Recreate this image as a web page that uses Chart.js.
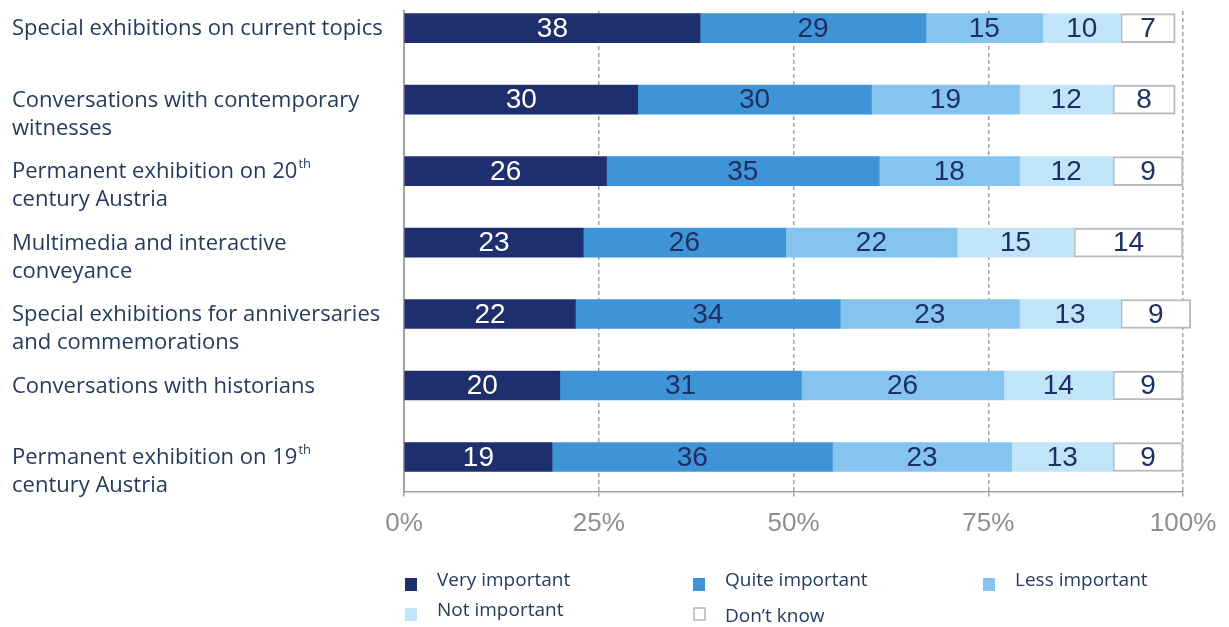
<!DOCTYPE html>
<html>
<head>
<meta charset="utf-8">
<title>Museum offerings – importance ratings</title>
<script src="https://cdn.jsdelivr.net/npm/chart.js@4.4.1/dist/chart.umd.min.js"></script>
<style>
  html, body { margin: 0; padding: 0; background: #ffffff; }
  #wrap { width: 1229px; height: 627px; }
</style>
</head>
<body>
<div id="wrap"><canvas id="chart" width="1229" height="627"></canvas></div>
<script>
// Survey items, top to bottom ("\n" separates label lines)
const categories = [
  'Special exhibitions on current topics',
  'Conversations with contemporary\nwitnesses',
  'Permanent exhibition on 20th\ncentury Austria',
  'Multimedia and interactive\nconveyance',
  'Special exhibitions for anniversaries\nand commemorations',
  'Conversations with historians',
  'Permanent exhibition on 19th\ncentury Austria'
];

// Shares in percent per answer
const veryImportant  = [38, 30, 26, 23, 22, 20, 19];
const quiteImportant = [29, 30, 35, 26, 34, 31, 36];
const lessImportant  = [15, 19, 18, 22, 23, 26, 23];
const notImportant   = [10, 12, 12, 15, 13, 14, 13];
const dontKnow       = [7, 8, 9, 14, 9, 9, 9];

const seriesNames = ['Very important', 'Quite important', 'Less important', 'Not important', 'Don\u2019t know'];
const xTicks = [0, 25, 50, 75, 100];

const fills   = ['#1f2e6c', '#3f93d7', '#84c4ef', '#c0e4f8', '#ffffff'];
const borders = ['#1f2e6c', '#3f93d7', '#84c4ef', '#c0e4f8', '#b9b9b9'];
const valueInk = ['#ffffff', '#1e2f63', '#1e2f63', '#1e2f63', '#1e2f63'];

const LABEL_FONT = '"Open Sans", "DejaVu Sans", sans-serif';
const VALUE_FONT = '"Liberation Sans", Arial, sans-serif';
const TEXT_INK = '#263a5e';

const seriesValues = [veryImportant, quiteImportant, lessImportant, notImportant, dontKnow];

const datasets = seriesValues.map((vals, s) => ({
  label: seriesNames[s],
  data: vals.map((v, i) => ({ x: v, y: i })),
  backgroundColor: fills[s],
  borderColor: borders[s],
  borderWidth: s === 4 ? 2 : 0,
  borderSkipped: false,
  barThickness: 29,
  clip: false
}));

// Draws a text line, rendering "th" after a number as a superscript
function drawRich(ctx, text, x, y, size) {
  const parts = text.split(/(\d+)(th)\b/);
  let cx = x;
  for (let k = 0; k < parts.length; k++) {
    const p = parts[k];
    if (!p) continue;
    const isSup = (p === 'th' && k > 0 && /^\d+$/.test(parts[k - 1]));
    ctx.font = (isSup ? Math.round(size * 0.6) : size) + 'px ' + LABEL_FONT;
    ctx.fillText(p, cx + (isSup ? 1 : 0), isSup ? y - size * 0.36 : y);
    cx += ctx.measureText(p).width;
  }
}

const categoryLabels = {
  id: 'categoryLabels',
  afterDraw(chart) {
    const ctx = chart.ctx;
    const yScale = chart.scales.y;
    ctx.save();
    ctx.fillStyle = TEXT_INK;
    ctx.textAlign = 'left';
    ctx.textBaseline = 'middle';
    categories.forEach((cat, i) => {
      const yc = yScale.getPixelForValue(i);
      cat.split('\n').forEach((line, j) => {
        drawRich(ctx, line, 12, yc + 1 + j * 28, 22);
      });
    });
    ctx.restore();
  }
};

const barValues = {
  id: 'barValues',
  afterDatasetsDraw(chart) {
    const ctx = chart.ctx;
    ctx.save();
    ctx.textAlign = 'center';
    ctx.textBaseline = 'middle';
    ctx.font = '28px ' + VALUE_FONT;
    chart.data.datasets.forEach((ds, s) => {
      const meta = chart.getDatasetMeta(s);
      meta.data.forEach((el, i) => {
        ctx.fillStyle = valueInk[s];
        ctx.fillText(String(ds.data[i].x), (el.x + el.base) / 2, el.y + 1);
      });
    });
    ctx.restore();
  }
};

const legendBlock = {
  id: 'legendBlock',
  afterDraw(chart) {
    const ctx = chart.ctx;
    const cols = [405, 693, 983];
    const rows = [584, 614];
    ctx.save();
    ctx.textAlign = 'left';
    ctx.textBaseline = 'middle';
    ctx.font = '19px ' + LABEL_FONT;
    seriesNames.forEach((name, s) => {
      const col = s % 3, row = Math.floor(s / 3);
      const bx = cols[col], by = rows[row];
      if (s === 4) {
        ctx.fillStyle = '#ffffff';
        ctx.fillRect(bx + 1, by - 6, 11, 12);
        ctx.strokeStyle = '#b5b5b5';
        ctx.lineWidth = 1.5;
        ctx.strokeRect(bx + 1, by - 6, 11, 12);
      } else {
        ctx.fillStyle = fills[s];
        ctx.fillRect(bx, by - 6, 12, 13);
      }
      ctx.fillStyle = TEXT_INK;
      ctx.fillText(name, bx + 32, by - 3 + (s === 4 ? 6 : 0));
    });
    ctx.restore();
  }
};

new Chart(document.getElementById('chart'), {
  type: 'bar',
  data: { datasets },
  options: {
    indexAxis: 'y',
    responsive: false,
    animation: false,
    layout: { padding: { top: 11, right: 46, bottom: 0, left: 0 } },
    plugins: { legend: { display: false }, tooltip: { enabled: false } },
    scales: {
      x: {
        type: 'linear',
        stacked: true,
        min: 0,
        max: 100,
        afterBuildTicks(scale) { scale.ticks = xTicks.map(v => ({ value: v })); },
        afterFit(scale) { scale.height = 135; },
        ticks: {
          callback: v => v + '%',
          color: '#8e8e8e',
          font: { family: VALUE_FONT, size: 26 },
          padding: 10,
          maxRotation: 0
        },
        grid: {
          color: '#a3a3a3',
          lineWidth: 1.5,
          tickLength: 6,
          tickColor: '#a3a3a3',
          tickBorderDash: [4, 3]
        },
        border: { display: true, color: '#a3a3a3', width: 1.5, dash: [4, 3] }
      },
      y: {
        type: 'linear',
        stacked: true,
        reverse: true,
        offset: false,
        min: -0.24,
        max: 6.49,
        afterFit(scale) { scale.width = 404; },
        ticks: { display: false },
        grid: { display: false, offset: false },
        border: { display: true, color: '#a3a3a3', width: 2 }
      }
    }
  },
  plugins: [barValues, categoryLabels, legendBlock]
});
</script>
</body>
</html>
